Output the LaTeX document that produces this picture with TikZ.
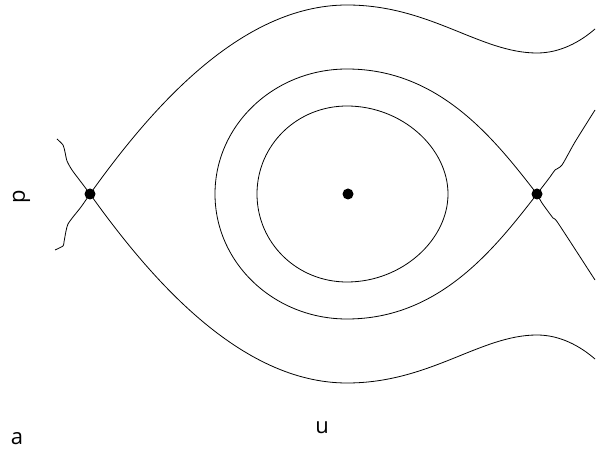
\documentclass[tikz,border=0pt]{standalone}
\usepackage{fontspec}
\setmainfont{Open Sans}
\usepackage{tikz}
\usetikzlibrary{positioning}
\tikzset{
  fixpt/.style={circle, fill=black, inner sep=0pt, minimum size=11pt},
  orbit/.style={line width=0.8pt, line join=round}
}

\begin{document}
\begin{tikzpicture}[x=1pt, y=-1pt, every node/.style={font=\fontsize{22}{26}\selectfont, inner sep=0pt}]
  \useasboundingbox (0,0) rectangle (598,449);

  % fixed points
  \node[fixpt] (sl) at (90,194) {};
  \node[fixpt] (cen) at (348,194) {};
  \node[fixpt] (sr) at (537,194) {};

  % outer separatrices of the left saddle
  \draw[orbit] (sl.center) .. controls (150,110) and (240,5) .. (347,5)
    .. controls (430,5) and (480,53) .. (537,53)
    .. controls (560,53) and (580,42) .. (595,29);
  \draw[orbit] (sl.center) .. controls (150,278) and (240,383) .. (347,383)
    .. controls (430,383) and (480,335) .. (537,335)
    .. controls (560,335) and (580,346) .. (595,359);

  % loop through the right saddle
  \draw[orbit] (sr.center) .. controls (495,140) and (440,69) .. (347,69)
    .. controls (274,69) and (215,125) .. (215,194)
    .. controls (215,263) and (274,319) .. (347,319)
    .. controls (440,319) and (495,248) .. (sr.center);

  % inner closed orbit
  \draw[orbit] (347,106) .. controls (402,106) and (448,148) .. (448,194)
    .. controls (448,240) and (402,282) .. (347,282)
    .. controls (297,282) and (257,243) .. (257,194)
    .. controls (257,145) and (297,106) .. (347,106);

  % rough branches at the saddles
  \draw[orbit] plot[smooth, tension=0.4] coordinates {(sl.center) (81,182) (72,170) (67,161) (65,152) (63,145) (57,139)};
  \draw[orbit] plot[smooth, tension=0.4] coordinates {(sl.center) (81,207) (73,217) (68,224) (66,231) (64,242) (63,246) (55,250)};
  \draw[orbit] plot[smooth, tension=0.4] coordinates {(sr.center) (550,177) (555,170) (562,165) (575,142) (595,110)};
  \draw[orbit] plot[smooth, tension=0.4] coordinates {(sr.center) (542,203) (553,218) (558,223) (595,280)};

  % axis letters
  \node[rotate=90] (plab) at (21.5,196.5) {p};
  \node (ulab) at (322,427.5) {u};
  \node (alab) at (17,438.5) {a};
\end{tikzpicture}
\end{document}
